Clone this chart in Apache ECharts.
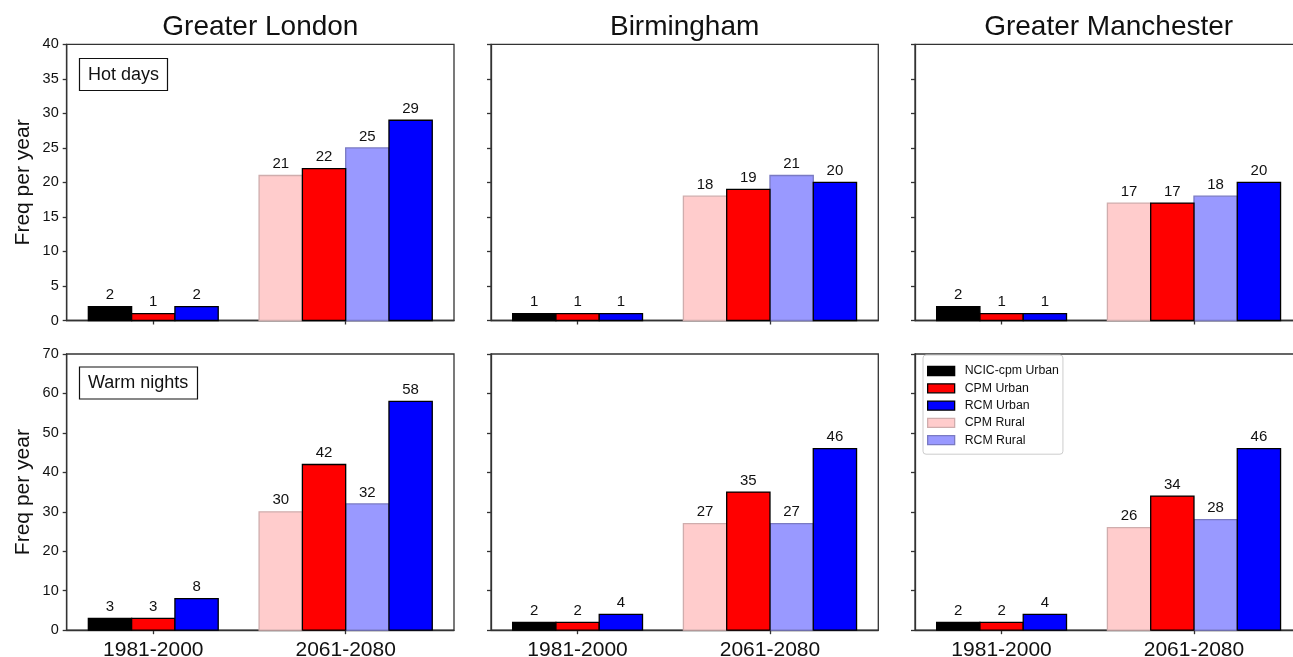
<!DOCTYPE html>
<html>
<head>
<meta charset="UTF-8">
<script src="https://cdn.jsdelivr.net/npm/echarts@6.0.0/dist/echarts.min.js"></script>
<style>
  html, body { margin: 0; padding: 0; background: #fff; }
  #main { width: 1293px; height: 657px; }
</style>
</head>
<body>
<div id="main"></div>
<script>
// ---- data ----
var cities = ['Greater London', 'Birmingham', 'Greater Manchester'];
var periods = ['1981-2000', '2061-2080'];
var seriesNames = ['NCIC-cpm Urban', 'CPM Urban', 'RCM Urban', 'CPM Rural', 'RCM Rural'];
var rowTitles = ['Hot days', 'Warm nights'];

// hot days, one value per city (London, Birmingham, Manchester)
var hotNcicUrban       = [2, 1, 2];
var hotCpmUrbanPast    = [1, 1, 1];
var hotRcmUrbanPast    = [2, 1, 1];
var hotCpmRural        = [21, 18, 17];
var hotCpmUrbanFuture  = [22, 19, 17];
var hotRcmRural        = [25, 21, 18];
var hotRcmUrbanFuture  = [29, 20, 20];

// warm nights
var warmNcicUrban      = [3, 2, 2];
var warmCpmUrbanPast   = [3, 2, 2];
var warmRcmUrbanPast   = [8, 4, 4];
var warmCpmRural       = [30, 27, 26];
var warmCpmUrbanFuture = [42, 35, 34];
var warmRcmRural       = [32, 27, 28];
var warmRcmUrbanFuture = [58, 46, 46];

var yMax = [40, 70];
var yStep = [5, 10];

// ---- layout / style ----
var BAR_W = 0.225;
var FONT = '"Liberation Sans", Arial, sans-serif';
var gridLeft = [66.7, 491, 915];
var gridTop = [44.3, 354];
var gridW = 387.3, gridH = 276.2;

var styles = {
  'NCIC-cpm Urban': { fill: '#000000', edge: '#000000' },
  'CPM Urban':      { fill: '#ff0000', edge: '#000000' },
  'RCM Urban':      { fill: '#0000ff', edge: '#000000' },
  'CPM Rural':      { fill: '#ffcccc', edge: '#cfadad' },
  'RCM Rural':      { fill: '#9999ff', edge: '#7a7ac2' }
};

// [series name, period index, slot offset (in bar widths), values]
var rows = [
  [
    ['CPM Rural', 1, -1.5, hotCpmRural],
    ['RCM Rural', 1, 0.5, hotRcmRural],
    ['NCIC-cpm Urban', 0, -1, hotNcicUrban],
    ['CPM Urban', 0, 0, hotCpmUrbanPast],
    ['CPM Urban', 1, -0.5, hotCpmUrbanFuture],
    ['RCM Urban', 0, 1, hotRcmUrbanPast],
    ['RCM Urban', 1, 1.5, hotRcmUrbanFuture]
  ],
  [
    ['CPM Rural', 1, -1.5, warmCpmRural],
    ['RCM Rural', 1, 0.5, warmRcmRural],
    ['NCIC-cpm Urban', 0, -1, warmNcicUrban],
    ['CPM Urban', 0, 0, warmCpmUrbanPast],
    ['CPM Urban', 1, -0.5, warmCpmUrbanFuture],
    ['RCM Urban', 0, 1, warmRcmUrbanPast],
    ['RCM Urban', 1, 1.5, warmRcmUrbanFuture]
  ]
];

function barRenderer(st) {
  return function (params, api) {
    var x = api.value(0), v = api.value(1);
    var tl = api.coord([x - BAR_W / 2, v]);
    var br = api.coord([x + BAR_W / 2, 0]);
    return {
      type: 'group',
      children: [
        { type: 'rect',
          shape: { x: tl[0], y: tl[1], width: br[0] - tl[0], height: br[1] - tl[1] },
          style: { fill: st.fill, stroke: st.edge, lineWidth: 1.3 } },
        { type: 'text', x: (tl[0] + br[0]) / 2, y: tl[1] - 4,
          style: { text: String(v), align: 'center', verticalAlign: 'bottom',
                   fontSize: 15, fontFamily: FONT, fill: '#111' } }
      ]
    };
  };
}

var grids = [], xAxes = [], yAxes = [], series = [], titles = [];
var order = ['CPM Rural', 'RCM Rural', 'NCIC-cpm Urban', 'CPM Urban', 'RCM Urban'];

for (var r = 0; r < 2; r++) {
  for (var c = 0; c < 3; c++) {
    var idx = grids.length;
    grids.push({ left: gridLeft[c], top: gridTop[r], width: gridW, height: gridH,
                 outerBoundsMode: 'none', containLabel: false,
                 show: true, borderColor: '#333', borderWidth: 1.3, backgroundColor: 'transparent' });
    xAxes.push({
      type: 'value', gridIndex: idx, min: -0.45, max: 1.563,
      splitLine: { show: false },
      axisLine: { show: true, onZero: false, lineStyle: { color: '#333', width: 1.3 } },
      axisTick: { show: true, customValues: [0, 1], length: 4, lineStyle: { color: '#333', width: 1.3 } },
      axisLabel: { show: r === 1, customValues: [0, 1], margin: 9.5,
                   formatter: function (v) { return periods[Math.round(v)]; },
                   fontSize: 21, fontFamily: FONT, color: '#111' }
    });
    yAxes.push({
      type: 'value', gridIndex: idx, min: 0, max: yMax[r], interval: yStep[r],
      splitLine: { show: false },
      axisLine: { show: true, onZero: false, lineStyle: { color: '#333', width: 1.3 } },
      axisTick: { show: true, length: 4, lineStyle: { color: '#333', width: 1.3 } },
      axisLabel: { show: c === 0, margin: 8, fontSize: 14.5, fontFamily: FONT, color: '#111' },
      name: c === 0 ? 'Freq per year' : '',
      nameLocation: 'middle', nameGap: 33,
      nameTextStyle: { fontSize: 21, fontFamily: FONT, color: '#111' }
    });
    order.forEach(function (name) {
      var data = [];
      rows[r].forEach(function (b) {
        if (b[0] === name) data.push([b[1] + b[2] * BAR_W, b[3][c]]);
      });
      series.push({
        type: 'custom', name: name, xAxisIndex: idx, yAxisIndex: idx,
        itemStyle: { color: styles[name].fill, borderColor: styles[name].edge },
        renderItem: barRenderer(styles[name]), data: data, silent: true
      });
    });
    if (r === 0) {
      titles.push({ text: cities[c], left: gridLeft[c] + gridW / 2, textAlign: 'center', top: 13, padding: 0,
                    textStyle: { fontSize: 28, fontWeight: 'normal', fontFamily: FONT, color: '#111' } });
    }
  }
}
titles.push({ text: rowTitles[0], left: 79, top: 58, padding: [8, 9, 7, 9], borderWidth: 1.2, borderColor: '#111',
              textStyle: { fontSize: 18, fontWeight: 'normal', fontFamily: FONT, color: '#111' } });
titles.push({ text: rowTitles[1], left: 79, top: 366.5, padding: [8, 9, 7, 9], borderWidth: 1.2, borderColor: '#111',
              textStyle: { fontSize: 18, fontWeight: 'normal', fontFamily: FONT, color: '#111' } });

var chart = echarts.init(document.getElementById('main'), null, { renderer: 'canvas' });
chart.setOption({
  animation: false,
  backgroundColor: '#fff',
  title: titles,
  grid: grids,
  xAxis: xAxes,
  yAxis: yAxes,
  legend: {
    orient: 'vertical', left: 923, top: 355,
    padding: [10, 4, 8, 4], itemGap: 5.3, itemWidth: 27, itemHeight: 9,
    backgroundColor: '#fff', borderColor: '#ccc', borderWidth: 1, borderRadius: 3,
    textStyle: { fontSize: 12.3, fontFamily: FONT, color: '#111', padding: [0, 0, 0, 5] },
    data: seriesNames.map(function (n) {
      return { name: n, icon: 'rect',
               itemStyle: { color: styles[n].fill, borderColor: styles[n].edge, borderWidth: 1.3 } };
    })
  },
  series: series
});
</script>
</body>
</html>
